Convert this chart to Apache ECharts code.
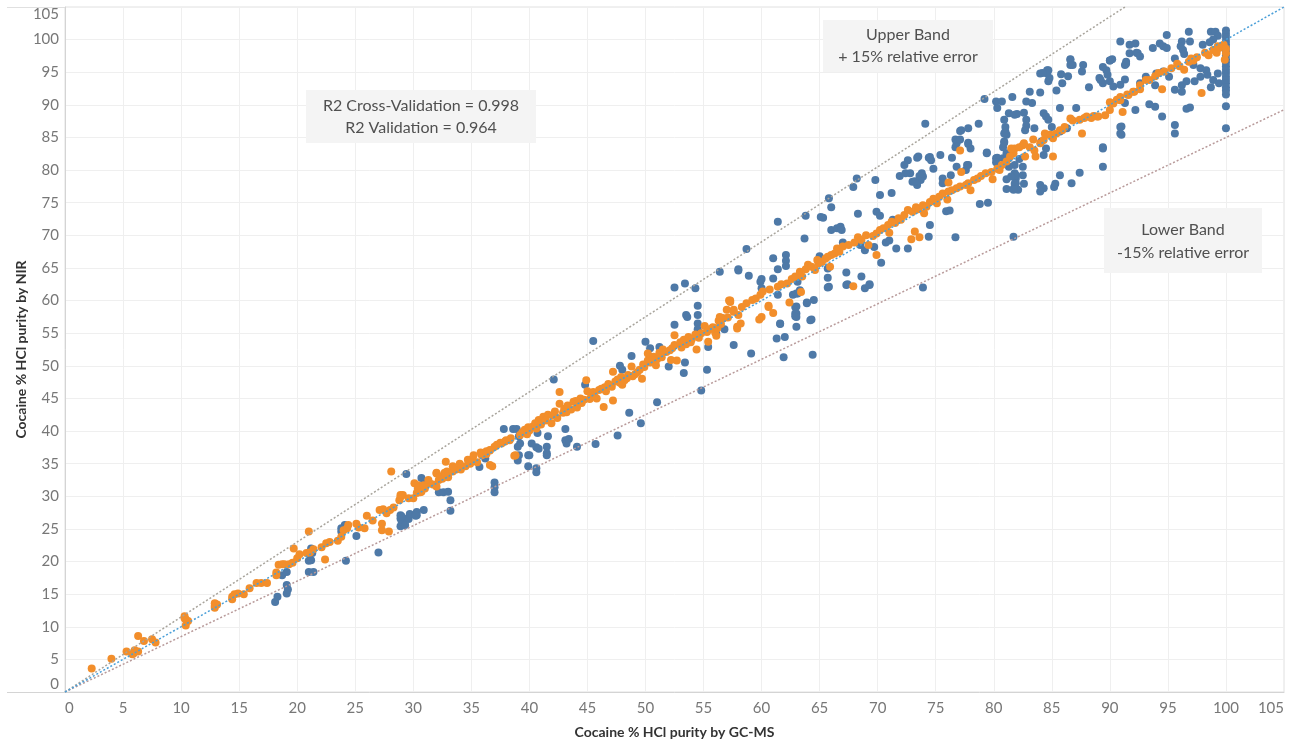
<!DOCTYPE html>
<html>
<head>
<meta charset="utf-8">
<script src="https://cdn.jsdelivr.net/npm/echarts@6/dist/echarts.min.js"></script>
<style>
html,body{margin:0;padding:0;background:#fff;}
#chart{width:1293px;height:744px;}
</style>
</head>
<body>
<div id="chart"></div>
<script>
// ---- Data ----
const axisTicks = [0,5,10,15,20,25,30,35,40,45,50,55,60,65,70,75,80,85,90,95,100,105];

// Orange: cross-validation predictions [GC-MS, NIR]
const crossValidationPoints = [
[2.3,3.6],[4.0,5.1],[5.3,6.2],[5.8,5.8],[5.9,5.9],[6.0,6.4],[6.3,6.2],[6.3,8.6],[6.8,7.8],[7.5,8.1],[7.8,7.6],
[10.3,11.6],[10.4,11.1],[10.6,10.9],[10.4,10.2],[10.3,11.3],[12.9,13.6],[12.9,12.9],[12.9,13.2],[13.1,13.4],[14.4,14.2],
[14.4,14.6],[14.6,15.0],[14.9,15.1],[15.4,15.0],[15.9,15.9],[16.5,16.7],[16.9,16.7],[17.4,16.7],[18.2,17.9],[18.2,18.3],
[18.4,19.5],[18.7,19.6],[18.9,19.6],[19.3,19.6],[19.6,19.8],[19.7,22.0],[20.0,20.5],[20.2,21.1],[20.8,21.3],[21.0,24.6],
[21.1,21.4],[21.4,21.9],[22.1,22.2],[22.4,20.3],[22.5,22.8],[22.8,23.0],[23.5,23.2],[23.8,23.8],[24.0,24.8],[24.3,25.1],
[24.4,25.6],[25.1,25.8],[25.3,25.2],[25.8,25.1],[26.0,27.0],[26.5,26.3],[27.3,25.8],[27.3,24.8],[27.1,27.9],[27.4,28.0],
[27.7,27.4],[27.9,24.6],[28.0,27.9],[28.1,33.8],[28.3,28.3],[28.8,29.4],[28.9,29.9],[29.1,30.2],[29.6,29.7],[30.0,29.7],
[30.3,30.5],[30.4,31.7],[30.7,30.7],[31.0,31.2],[31.4,32.0],[32.0,33.6],[32.0,31.5],[32.2,32.5],[32.4,33.0],[32.8,35.3],
[32.9,33.8],[33.0,32.9],[28.9,30.2],[30.1,32.0],[30.4,31.2],[30.6,30.6],[30.9,31.7],[31.3,32.5],[31.7,31.8],[32.0,33.5],
[32.3,33.0],[32.5,32.7],[32.7,33.6],[33.0,33.5],[33.4,33.8],[33.7,34.1],[34.1,34.1],[34.5,34.6],[34.9,35.0],[35.1,35.7],
[35.5,35.2],[35.9,36.3],[36.3,36.5],[36.6,34.8],[36.6,37.0],[37.0,37.6],[37.5,38.2],[37.9,38.4],[38.3,38.6],[38.8,36.3],
[33.4,34.6],[34.0,35.0],[34.7,35.6],[35.2,36.3],[35.8,36.7],[36.3,36.9],[36.6,37.1],[36.8,34.6],[37.2,37.9],[37.6,38.1],
[38.0,38.6],[38.4,38.9],[38.7,36.2],[39.2,39.4],[39.6,40.2],[39.9,40.6],[40.3,40.7],[40.8,41.7],[41.2,42.2],[41.6,42.5],
[41.9,41.2],[42.2,43.0],[42.6,46.0],[42.6,44.2],[43.0,43.4],[43.3,43.9],[43.6,43.3],[43.8,44.5],[44.1,43.6],[44.4,45.0],
[44.5,44.3],[44.9,47.8],[45.0,46.1],[45.3,45.8],[45.5,46.0],[45.8,45.0],[46.0,46.3],[46.4,43.7],[46.5,46.7],[47.2,44.7],
[47.2,49.1],[47.4,47.6],[47.9,48.3],[48.0,47.1],[48.2,47.8],[48.5,48.6],[48.8,49.9],[49.1,48.7],[49.5,49.4],[49.7,48.0],
[49.9,49.8],[50.2,50.8],[50.2,51.9],[50.7,51.4],[50.9,50.1],[51.2,52.0],[51.5,52.5],[52.1,52.4],[52.2,50.9],[52.7,50.8],
[52.5,53.2],[53.0,53.6],[53.3,54.0],[52.5,54.7],[53.7,54.4],[54.4,52.5],[54.3,54.8],[54.8,55.0],[55.1,56.1],[55.5,55.6],
[56.0,55.1],[56.3,56.9],[56.7,57.3],[57.3,60.0],[57.6,58.6],[57.9,56.0],[58.0,57.8],[39.4,39.8],[40.0,40.1],[40.5,41.2],
[41.0,41.0],[42.0,42.4],[42.9,42.8],[44.0,44.6],[45.2,44.9],[46.2,46.5],[46.8,47.2],[47.6,47.9],[48.4,48.1],[49.3,49.0],
[50.4,50.5],[51.0,51.0],[51.8,52.1],[53.5,53.3],[54.0,54.1],[55.8,55.9],[56.5,56.4],[57.1,57.4],
[39.8,39.5],[40.6,40.4],[41.4,41.6],[42.4,42.0],[43.2,42.9],[44.7,44.8],[45.6,45.4],[46.6,46.1],[47.1,46.8],[47.8,47.4],
[48.9,48.4],[49.8,50.2],[50.6,50.9],[51.4,51.3],[52.3,52.7],[53.1,52.8],[53.9,53.6],[54.6,54.3],[55.3,55.2],[56.2,55.8],
[55.4,53.7],[56.1,54.6],[57.3,59.8],[57.9,55.7],[58.2,56.5],[60.0,57.5],[60.6,59.0],[61.0,58.1],[62.4,59.7],[63.4,61.3],[67.9,62.2],
[56.4,57.5],[57.0,58.6],[57.6,58.3],[58.3,59.0],[58.7,59.6],[59.2,60.1],[59.5,60.3],[59.9,60.9],[60.1,61.4],[60.7,61.7],
[61.4,62.1],[61.7,62.5],[62.2,62.6],[62.6,63.3],[62.9,63.7],[63.3,64.4],[63.5,63.7],[63.8,64.8],[64.0,65.5],[64.3,65.2],
[64.6,64.7],[64.9,65.7],[65.2,65.9],[65.5,66.4],[65.7,66.7],[66.0,67.0],[66.3,67.2],[66.5,68.0],[66.7,67.5],[67.0,68.3],
[67.5,68.5],[68.3,69.7],[68.6,69.3],[69.0,70.0],[69.2,68.5],[69.6,69.9],[69.9,70.3],[70.2,70.8],[70.5,71.1],[70.9,71.6],
[71.2,72.1],[71.5,71.9],[71.8,72.6],[72.0,72.4],[72.3,73.1],[72.6,73.9],[73.0,73.6],[73.3,74.3],[73.5,74.0],[73.9,74.6],
[74.2,74.4],[74.5,75.1],[74.8,75.6],[75.1,74.9],[75.3,75.9],[75.6,76.4],[76.1,76.7],[76.4,76.9],[76.8,77.2],[77.1,77.5],
[77.6,77.7],[77.8,78.0],[78.3,78.5],[78.6,78.7],[78.9,79.1],[79.3,79.5],[79.8,79.7],[80.3,80.2],[80.7,80.8],[81.1,81.3],
[81.7,82.6],[81.8,83.3],[57.2,60.0],[60.6,59.2],[59.8,57.1],[69.9,67.0],[73.2,70.6],[72.9,69.4],[73.6,69.7],[77.1,83.0],
[76.1,78.1],[77.2,79.7],[79.9,78.6],[80.5,80.0],[64.8,66.2],[65.9,65.2],[68.0,68.9],[71.0,70.4],[74.0,73.4],[76.0,75.5],[78.0,76.9],
[81.5,83.3],[82.5,83.8],[83.1,83.5],[83.5,83.0],[84.0,84.1],[84.3,84.6],[84.7,85.4],[85.1,84.9],[85.4,85.6],[85.9,86.1],
[86.1,86.6],[86.8,87.6],[87.4,87.7],[88.0,88.2],[88.6,88.3],[89.0,88.2],[89.6,88.4],[90.0,89.2],[90.3,90.2],[90.9,90.7],
[91.6,91.5],[92.1,92.0],[92.6,93.0],[91.1,88.9],[87.6,85.6],[85.1,82.1],[83.6,82.1],[82.7,82.1],[82.2,83.5],[81.4,82.1],
[82.6,84.1],[83.4,84.7],[84.4,85.6],[84.9,85.4],[85.7,86.1],[86.6,87.9],[87.8,88.0],[88.4,88.0],[88.9,88.2],[90.0,90.4],
[90.6,90.8],[90.9,91.2],[91.5,91.6],[92.0,92.0],[92.6,92.4],[93.1,93.8],[93.4,93.8],[93.9,94.4],[94.5,92.4],[94.7,95.1],
[95.3,95.6],[96.0,95.9],[96.8,96.6],[97.0,97.1],[97.5,97.3],[97.9,91.8],[98.2,98.0],[98.9,98.4],[99.4,98.7],[99.2,98.0],
[99.3,99.0],[94.2,94.9],[95.8,96.3],[96.4,95.4],[97.2,96.8],[98.5,97.6],[99.8,99.2],[99.9,96.9],[100,97.9],[100,98.6]
];

// Blue: external validation predictions [GC-MS, NIR]
const validationPoints = [
[18.1,13.8],[18.3,14.6],[19.1,15.1],[19.2,15.7],[19.1,16.4],[18.7,17.9],[19.1,18.4],[21.0,18.4],[21.4,18.4],[21.0,20.1],
[21.2,20.2],[21.3,21.3],[21.2,22.0],[21.0,21.3],[23.8,25.1],[24.1,25.6],[23.8,24.6],[25.1,23.9],[24.2,20.1],[27.0,21.4],
[28.9,27.1],[28.9,26.6],[28.9,25.4],[29.1,25.6],[29.3,26.5],[29.6,26.5],[29.7,27.3],[30.3,27.1],[30.3,27.6],[30.9,27.9],
[29.0,26.1],[29.0,26.9],[29.3,25.6],[30.2,27.0],[29.4,33.4],[30.7,32.8],[31.0,32.2],[32.2,30.6],[32.6,30.6],[33.0,30.7],
[33.2,29.4],[33.2,27.8],[36.2,35.8],[35.7,34.5],[37.0,32.1],[37.0,31.4],[37.0,30.6],[39.0,35.5],[39.1,36.3],[39.9,36.3],
[39.9,34.6],[40.6,34.3],[40.6,33.7],[40.6,37.5],[40.2,38.1],[40.8,37.3],[41.5,37.6],[41.5,36.6],[41.5,36.3],[43.2,38.1],
[44.1,37.6],[37.8,40.3],[38.6,40.3],[38.9,40.3],[39.1,39.2],[39.2,38.1],[39.0,37.6],[40.7,39.7],[41.6,39.2],[40.0,36.3],
[42.1,47.9],[44.8,47.1],[43.1,40.3],[43.1,38.6],[43.4,38.8],[45.7,38.0],[47.6,39.3],[48.6,42.8],[49.6,41.2],[51.0,44.4],
[45.5,53.8],[48.8,51.5],[47.8,50.0],[48.0,49.4],[50.0,53.7],[50.4,52.7],[50.4,51.4],[51.2,52.9],[52.0,49.9],[53.4,50.5],
[53.3,48.9],[55.4,52.9],[55.3,49.4],[54.8,46.2],[56.8,55.6],[56.1,54.9],[57.6,53.2],[52.5,56.3],[54.5,59.2],[53.5,57.8],
[53.6,57.5],[54.5,57.8],[54.5,56.5],[54.5,55.6],[52.5,62.0],[53.4,62.6],[54.3,61.9],[56.4,64.4],[58.0,64.6],
[59.9,62.9],[60.0,61.9],[61.4,60.9],[62.7,60.9],[63.1,61.1],[63.3,61.6],[63.0,59.1],[63.0,58.0],[63.0,57.5],[63.0,56.0],
[63.9,59.6],[64.5,60.1],[64.3,57.1],[61.6,56.4],[61.3,54.2],[62.0,54.4],[61.9,51.3],[64.4,51.7],[59.1,51.9],[56.6,57.3],
[65.7,62.0],[67.3,62.4],[68.9,61.9],[69.3,62.4],
[77.1,86.0],[76.9,84.6],[76.8,84.1],[77.8,84.0],[78.0,83.3],[75.4,82.3],[73.4,81.9],[74.4,81.9],[74.6,81.5],[72.6,81.5],
[72.3,80.8],[74.8,80.2],[73.9,79.0],[73.7,78.5],[73.4,77.7],[73.0,78.2],[72.8,79.5],[71.9,79.1],[76.3,79.2],[75.6,78.7],
[75.6,78.0],[77.7,80.8],[77.6,80.0],[79.4,82.6],[80.2,81.8],[80.8,81.8],[81.1,82.6],[80.9,84.4],[80.8,83.5],[81.0,85.9],
[81.1,85.4],[81.8,80.8],[81.8,79.5],[81.9,78.7],[81.9,78.0],[81.1,78.6],[81.1,77.1],[81.7,77.1],[82.1,77.0],[78.8,74.8],
[79.5,75.0],[76.2,73.8],[75.9,73.7],[74.5,71.6],[74.4,69.8],[76.7,69.7],[81.7,69.8],[73.9,62.0],[71.2,76.5],[70.2,76.2],
[69.8,78.5],[68.2,78.7],[67.9,77.4],[65.8,75.7],[66.0,74.3],[63.8,73.0],[65.1,72.8],[65.3,72.7],[61.4,72.1],[58.7,67.9],
[68.3,73.3],[69.9,73.6],[70.2,73.0],[71.3,72.4],[66.0,70.8],[66.5,71.1],[66.8,71.3],[66.9,70.8],[63.7,69.5],[67.0,68.9],
[65.0,66.8],[68.5,68.5],[69.7,68.2],[70.7,68.9],[71.0,69.2],[71.6,68.0],[72.6,68.0],[70.3,65.8],[68.9,67.7],[67.3,64.3],
[65.7,64.9],[67.4,62.5],[68.6,63.7],[69.3,62.5],[65.8,62.1],[65.7,63.5],[62.1,67.0],[62.1,66.1],[62.1,65.3],[61.0,66.5],
[61.4,64.8],[61.0,63.4],[60.0,63.3],[58.9,63.8],[58.0,64.8],[63.1,62.9],[63.0,61.1],[63.9,59.7],[62.9,59.0],[62.9,58.0],
[62.9,57.6],[64.2,57.0],[61.6,56.5],
[90.9,99.7],[91.7,99.2],[92.4,97.9],[90.2,97.0],[90.0,96.8],[91.4,96.6],[91.3,96.1],[86.6,97.0],[86.8,96.1],[84.7,95.3],
[84.6,94.8],[84.0,94.8],[85.8,94.7],[85.9,93.3],[84.7,93.6],[84.8,94.1],[86.4,94.4],[89.7,95.3],[89.8,94.6],[89.1,94.1],
[89.4,93.3],[90.0,93.6],[90.3,92.8],[91.3,93.9],[90.9,93.1],[88.2,92.7],[85.4,92.2],[84.0,91.9],[83.1,92.0],[81.6,91.2],
[80.2,90.5],[80.7,90.5],[82.8,90.5],[83.3,90.3],[79.2,90.9],[85.7,89.5],[87.1,89.5],[82.6,88.8],[82.8,87.7],[82.0,88.6],
[81.3,88.7],[80.3,89.5],[80.9,87.7],[81.0,86.6],[80.9,85.6],[80.9,84.2],[82.8,86.8],[82.7,86.1],[83.5,86.4],[84.3,88.7],
[84.5,88.2],[84.7,87.7],[85.0,86.6],[85.7,85.9],[86.3,86.4],[84.1,84.4],[84.5,83.3],[84.3,82.3],[90.9,86.6],[90.9,85.6],
[89.4,83.3],[89.4,80.5],[87.4,79.6],[85.7,79.2],[85.3,77.9],[85.2,77.4],[84.0,77.7],[84.3,77.2],[84.0,76.7],[82.2,81.7],
[82.5,80.5],[82.5,79.2],[82.6,77.9],[81.9,79.2],[81.8,77.9],[81.7,77.0],[81.3,81.8],[81.3,80.5],[81.5,79.0],[80.3,81.9],
[80.2,81.2],[79.4,82.7],[77.8,80.8],[76.8,80.5],[76.4,81.9],[74.5,82.0],[73.5,82.1],[73.2,78.3],[73.6,79.1],[73.8,79.5],
[72.4,79.5],[74.1,87.1],[76.7,84.7],[77.1,84.7],[76.7,83.5],[77.8,84.2],[77.2,86.1],[77.8,86.4],[78.7,87.1],[86.7,78.0],
[100,101.4],[100,100.9],[100,100.4],[100,99.8],[100,99.3],[100,98.8],[100,98.2],[100,97.6],[100,97.0],[100,96.5],
[100,95.9],[100,95.4],[100,94.9],[100,94.3],[100,93.8],[100,93.3],[100,92.7],[100,92.2],[100,91.6],[100,89.8],[100,86.4],
[96.8,101.2],[94.9,100.7],[98.7,101.2],[99.1,101.2],[99.3,100.6],[98.9,100.0],[98.6,99.6],[98.0,99.2],[96.2,99.7],[96.1,99.0],
[96.3,98.4],[96.4,97.8],[96.9,99.7],[94.3,99.4],[94.6,99.0],[94.9,98.7],[93.7,98.7],[92.2,99.4],[91.7,97.9],[92.3,98.0],
[91.4,96.3],[92.6,97.4],[95.6,97.1],[97.2,96.1],[97.8,95.6],[98.3,95.3],[98.4,94.6],[98.9,93.8],[99.3,94.8],[99.4,93.3],
[98.7,92.7],[97.8,94.3],[97.3,93.6],[96.2,93.0],[96.6,93.6],[95.6,92.3],[96.2,92.0],[95.1,94.3],[94.6,95.1],[94.0,94.8],
[93.1,94.3],[92.6,93.3],[93.9,93.0],[96.9,89.6],[96.6,89.4],[95.6,86.9],[95.6,85.6],[94.5,88.2],[93.9,89.7],[93.4,90.1],
[92.2,89.2],[91.3,90.3],[89.4,95.8],[90.0,96.8],[89.2,93.8],[87.6,95.1],[87.7,96.1],[86.6,96.9],[86.6,96.1],[84.6,95.3],
[84.6,94.9],[84.2,94.9],[81.8,88.5],[89.4,83.5],[91.0,86.7],[91.0,85.4]
];

// Reference lines: identity, +15% and -15% relative error
const identityLine = [[0,0],[105,105]];
const upperBandLine = [[0,0],[91.3,105]];
const lowerBandLine = [[0,0],[105,89.25]];

const annotationR2 = ['R2 Cross-Validation = 0.998','R2 Validation = 0.964'];
const annotationUpper = ['Upper Band','+ 15% relative error'];
const annotationLower = ['Lower Band','-15% relative error'];
const xAxisTitle = 'Cocaine % HCl purity by GC-MS';
const yAxisTitle = 'Cocaine % HCl purity by NIR';

// ---- Chart ----
const chart = echarts.init(document.getElementById('chart'), null, {renderer:'canvas'});
const FONT = 'Lato, "Open Sans", sans-serif';
const gridL = 65, gridR = 9, gridT = 7, gridB = 52;

function axisCfg(name, isY){
  return {
    type:'value', min:axisTicks[0], max:axisTicks[axisTicks.length-1], interval:5,
    name:name, nameLocation:'middle', nameGap: isY ? 37 : 33, nameMoveOverlap:false,
    nameTextStyle:{fontFamily:FONT, fontSize:14, fontWeight:'bold', color:'#333'},
    axisLine:{show:true, lineStyle:{color:'#d4d4d4', width:1}},
    axisTick:{show:false},
    splitLine:{show:true, lineStyle:{color:'#efefef', width:1}},
    axisLabel:{fontFamily:FONT, fontSize:15, color:'#777', margin: isY ? 6 : 9,
      alignMinLabel: isY ? undefined : 'left', alignMaxLabel: isY ? undefined : 'right',
      verticalAlignMinLabel: isY ? 'bottom' : undefined, verticalAlignMaxLabel: isY ? 'top' : undefined}
  };
}

function textBox(x, y, w, h, lines, lineYs, cx){
  const els = [{type:'rect', shape:{x:x, y:y, width:w, height:h}, style:{fill:'#f4f4f4'}, z:10, silent:true}];
  lines.forEach((t,i)=>{
    els.push({type:'text', x:cx, y:lineYs[i], z:11, silent:true,
      style:{text:t, fill:'#505050', font:'16px ' + FONT, textAlign:'center', textVerticalAlign:'middle'}});
  });
  return els;
}

const refLine = (data, color) => ({
  type:'line', data:data, symbol:'none', silent:true, z:5,
  lineStyle:{color:color, width:1.5, type:[2,2]}, animation:false
});

chart.setOption({
  backgroundColor:'#fff',
  animation:false,
  grid:{left:gridL, right:gridR, top:gridT, bottom:gridB, show:true, borderColor:'#e0e0e0', borderWidth:1, containLabel:false},
  xAxis: axisCfg(xAxisTitle, false),
  yAxis: axisCfg(yAxisTitle, true),
  series:[
    {type:'scatter', data:validationPoints, symbolSize:8, itemStyle:{color:'#4e79a7', opacity:1}, z:2},
    {type:'scatter', data:crossValidationPoints, symbolSize:8, itemStyle:{color:'#f28e2b', opacity:1}, z:3},
    refLine(upperBandLine, '#a8a49c'),
    refLine(lowerBandLine, '#b89a9a'),
    refLine(identityLine, '#4a9fd8')
  ],
  graphic:[
    {type:'line', shape:{x1:7, y1:692.5, x2:gridL, y2:692.5}, style:{stroke:'#d4d4d4', lineWidth:1}, silent:true},
    {type:'line', shape:{x1:7, y1:7.5, x2:gridL, y2:7.5}, style:{stroke:'#e0e0e0', lineWidth:1}, silent:true},
    ...textBox(306, 90, 230, 53, annotationR2, [106, 128], 421),
    ...textBox(823, 20, 170, 52, annotationUpper, [35, 57], 908),
    ...textBox(1104, 208, 158, 65, annotationLower, [230, 253], 1183)
  ]
});
</script>
</body>
</html>
